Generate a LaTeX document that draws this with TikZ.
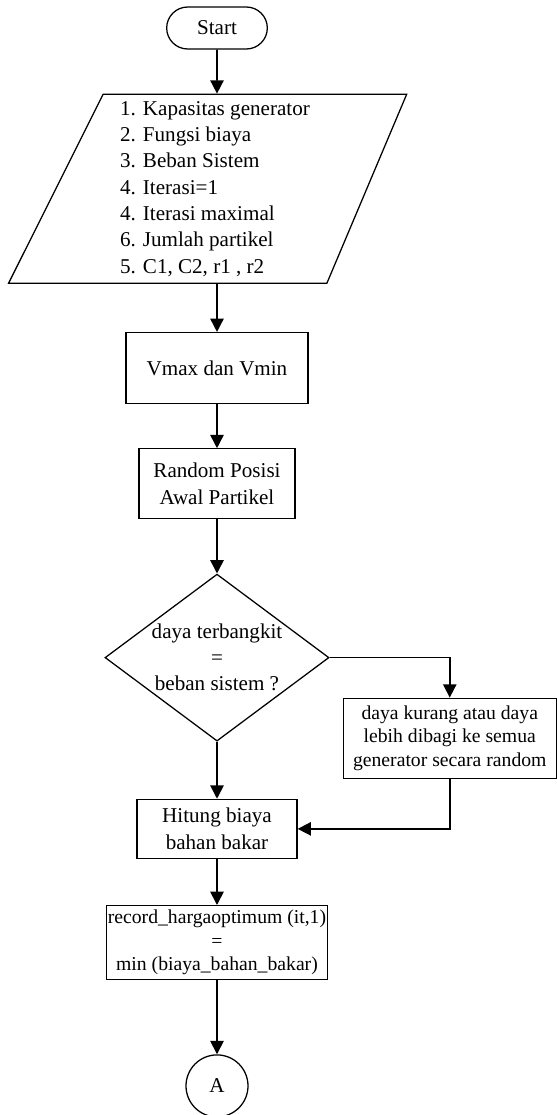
\documentclass[tikz,border=0pt]{standalone}
\usepackage{fontspec}
\setmainfont{Liberation Serif}
\usetikzlibrary{shapes,arrows.meta,positioning,calc}

\begin{document}
\begin{tikzpicture}[
  node distance=1.1cm,
  term/.style={rounded rectangle, draw, line width=0.9pt, minimum width=2.75cm, minimum height=1.05cm, font=\fontsize{15}{18.5}\selectfont},
  io/.style={trapezium, trapezium left angle=63.3, trapezium right angle=113, draw, line width=0.9pt, align=left, inner xsep=0.35cm, inner ysep=0.1cm, minimum height=4.725cm, font=\fontsize{15}{18.7}\selectfont},
  box/.style={rectangle, draw, line width=0.9pt, align=center, inner sep=1pt, font=\fontsize{15}{19}\selectfont},
  decision/.style={diamond, aspect=1.34, draw, line width=0.9pt, align=center, inner sep=-3pt, minimum width=5.6cm, minimum height=4.175cm, font=\fontsize{15}{18.5}\selectfont},
  conn/.style={circle, draw, line width=0.9pt, minimum size=1.55cm, inner sep=0pt, font=\fontsize{15}{18}\selectfont},
  arrow/.style={-{Triangle[length=9.5pt,width=9.5pt]}, line width=1.2pt}
]
  \useasboundingbox (0,0) rectangle (13.9,-27.875);
  \node[term] (start) at (5.425,-0.7) {Start};
  \node[io, below=1.1cm of start, xshift=-0.05cm] (inp) {1. Kapasitas generator\\2. Fungsi biaya\\3. Beban Sistem\\4. Iterasi=1\\4. Iterasi maximal\\6. Jumlah partikel\\5. C1, C2, r1 , r2};
  \node[box, below=1.2cm of start |- inp.south, minimum width=4.55cm, minimum height=1.775cm] (vmax) {Vmax dan Vmin};
  \node[box, below=1.1cm of vmax, minimum width=3.9cm, minimum height=1.75cm] (rand) {Random Posisi\\Awal Partikel};
  \node[decision, below=1.35cm of rand] (dec) {daya terbangkit\\=\\beban sistem ?};
  \node[box, below right=1.0cm and 0.325cm of dec.east, minimum width=5.325cm, minimum height=2.0cm, font=\fontsize{14}{17}\selectfont] (fix) {daya kurang atau daya\\lebih dibagi ke semua\\generator secara random};
  \node[box, below=1.425cm of dec, minimum width=4.0cm, minimum height=1.475cm] (hit) {Hitung biaya\\bahan bakar};
  \node[box, below=1.15cm of hit, minimum width=5.5cm, minimum height=1.85cm, font=\fontsize{14}{16.8}\selectfont] (rec) {record\_hargaoptimum (it,1)\\=\\min (biaya\_bahan\_bakar)};
  \node[conn, below=1.85cm of rec] (conA) {A};
  \draw[arrow] (start) -- (start |- inp.north);
  \draw[arrow] (vmax |- inp.south) -- (vmax);
  \draw[arrow] (vmax) -- (rand);
  \draw[arrow] (rand) -- (dec);
  \draw[arrow] (dec.east) -| (fix);
  \draw[arrow] (fix) |- (hit);
  \draw[arrow] (dec) -- (hit);
  \draw[arrow] (hit) -- (rec);
  \draw[arrow] (rec) -- (conA);
\end{tikzpicture}
\end{document}
